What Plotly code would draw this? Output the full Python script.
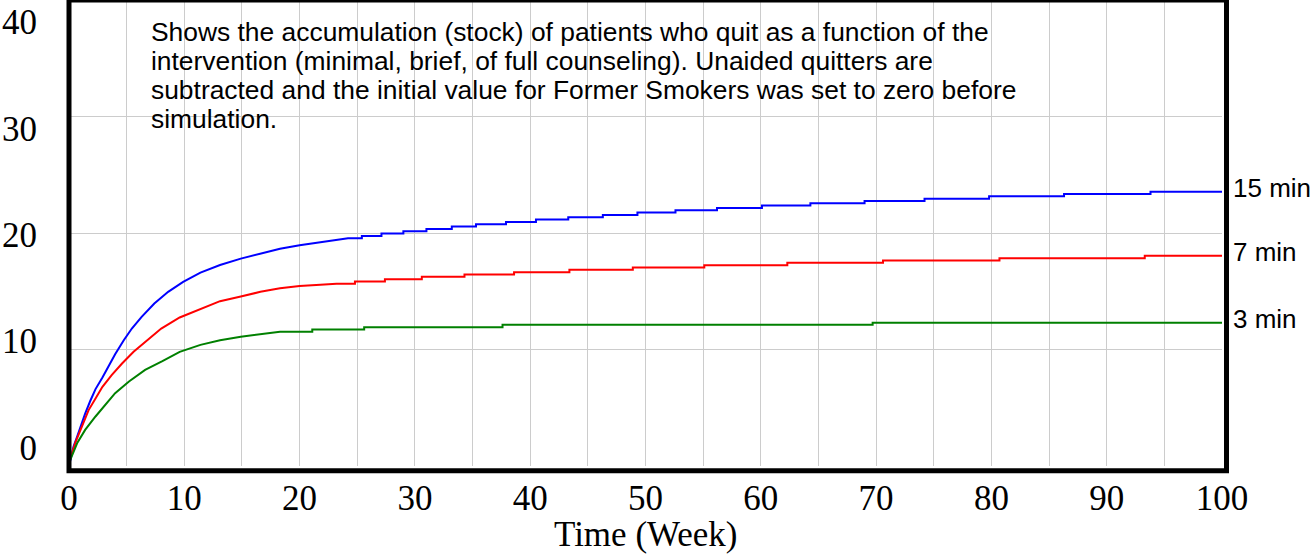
import plotly.graph_objects as go

# ---- data ----
weeks_15 = [0, 0.4, 0.7, 1.0, 1.4, 1.85, 2.3, 2.9, 3.45, 4.0, 4.75, 5.45, 6.3, 7.4, 8.6, 9.9, 11.4,
            13.1, 14.9, 16.6, 18.3, 20.0, 21.8, 23.5, 24.2,
            25.4, 25.4, 27.1, 27.1, 29.0, 29.0, 31.0, 31.0, 33.2, 33.2, 35.3, 35.3, 37.9, 37.9,
            40.5, 40.5, 43.3, 43.3, 46.3, 46.3, 49.3, 49.3, 52.6, 52.6, 56.2, 56.2, 60.1, 60.1,
            64.3, 64.3, 69.0, 69.0, 74.2, 74.2, 79.8, 79.8, 86.3, 86.3, 93.8, 93.8, 100]
vals_15 = [0, 1.7, 2.5, 3.4, 4.5, 5.6, 6.6, 7.6, 8.6, 9.6, 10.8, 11.8, 12.8, 13.95, 14.95, 15.8, 16.6,
           17.25, 17.8, 18.25, 18.65, 18.95, 19.2, 19.45, 19.55,
           19.55, 19.75, 19.75, 19.95, 19.95, 20.15, 20.15, 20.35, 20.35, 20.55, 20.55, 20.75, 20.75, 20.95,
           20.95, 21.15, 21.15, 21.35, 21.35, 21.55, 21.55, 21.75, 21.75, 21.95, 21.95, 22.15, 22.15, 22.35,
           22.35, 22.55, 22.55, 22.75, 22.75, 22.95, 22.95, 23.15, 23.15, 23.35, 23.35, 23.55, 23.55]

weeks_7 = [0, 0.1, 0.55, 1.1, 1.7, 2.3, 2.9, 3.7, 4.6, 5.6, 6.9, 8.0, 9.6, 11.4, 13.1, 14.9, 16.6,
           18.3, 20.0, 21.8, 23.2,
           24.8, 24.8, 27.4, 27.4, 30.6, 30.6, 34.3, 34.3, 38.6, 38.6, 43.4, 43.4, 48.9, 48.9,
           55.1, 55.1, 62.3, 62.3, 70.6, 70.6, 80.7, 80.7, 93.3, 93.3, 100]
vals_7 = [0, 0.6, 2.0, 3.4, 4.8, 5.8, 6.8, 7.8, 8.8, 9.8, 10.9, 11.8, 12.75, 13.5, 14.15, 14.55, 14.95,
          15.25, 15.45, 15.55, 15.64,
          15.64, 15.84, 15.84, 16.04, 16.04, 16.24, 16.24, 16.44, 16.44, 16.64, 16.64, 16.84, 16.84, 17.04,
          17.04, 17.24, 17.24, 17.44, 17.44, 17.64, 17.64, 17.84, 17.84, 18.04, 18.04]

weeks_3 = [0, 0.1, 0.7, 1.4, 2.3, 3.15, 4.0, 5.2, 6.6, 8.1, 9.6, 11.4, 13.1, 14.9, 16.6, 18.3,
           21.1, 21.1, 25.6, 25.6, 37.6, 37.6, 69.7, 69.7, 100]
vals_3 = [0, 0.5, 1.95, 3.1, 4.25, 5.25, 6.25, 7.25, 8.25, 9.0, 9.8, 10.4, 10.8, 11.1, 11.32, 11.52,
          11.52, 11.72, 11.72, 11.92, 11.92, 12.12, 12.12, 12.3, 12.3]

series_names = ["15 min", "7 min", "3 min"]
series_colors = ["#0000FF", "#FF0000", "#008000"]
series_weeks = [weeks_15, weeks_7, weeks_3]
series_vals = [vals_15, vals_7, vals_3]

x_ticks = [0, 10, 20, 30, 40, 50, 60, 70, 80, 90, 100]
y_ticks = [0, 10, 20, 30, 40]
x_title = "Time (Week)"
note_lines = [
    "Shows the accumulation (stock) of patients who quit as a function of the",
    "intervention (minimal, brief, of full counseling). Unaided quitters are",
    "subtracted and the initial value for Former Smokers was set to zero before",
    "simulation.",
]

# ---- figure ----
W, H = 1312, 558
L, R, T, B = 69, 90, 0, 92
PH = H - T - B

fig = go.Figure()
for name, col, xs, ys in zip(series_names, series_colors, series_weeks, series_vals):
    fig.add_trace(go.Scatter(x=xs, y=ys, mode="lines", name=name,
                             line=dict(color=col, width=2), showlegend=False,
                             hoverinfo="skip"))
    fig.add_annotation(x=xs[-1], y=ys[-1], xref="x", yref="y", text=name,
                       showarrow=False, xanchor="left", yanchor="middle",
                       xshift=9, yshift=4,
                       font=dict(family="Liberation Sans, Arial", size=26, color="black"))

# invisible trace so the label axis is drawn
fig.add_trace(go.Scatter(x=[0], y=[0], yaxis="y2", mode="markers",
                         marker=dict(opacity=0), showlegend=False, hoverinfo="skip"))

serif = dict(family="Liberation Serif, Times New Roman", size=35, color="black")

fig.update_layout(
    width=W, height=H,
    margin=dict(l=L, r=R, t=T, b=B),
    paper_bgcolor="white", plot_bgcolor="white",
    xaxis=dict(range=[0, 100], tickvals=x_ticks, ticktext=[str(v) for v in x_ticks],
               showgrid=True, gridcolor="#cccccc", gridwidth=1,
               minor=dict(dtick=5, showgrid=True, gridcolor="#cccccc", gridwidth=1),
               zeroline=False, showline=False, ticks="outside", ticklen=1,
               tickcolor="rgba(0,0,0,0)", tickfont=serif),
    yaxis=dict(range=[0, 40], dtick=10, showgrid=True, gridcolor="#cccccc", gridwidth=1,
               zeroline=False, showline=False, showticklabels=False, ticks=""),
    yaxis2=dict(overlaying="y", side="left", anchor="x",
                range=[-1.74, 42.07], tickvals=y_ticks, ticktext=[str(v) for v in y_ticks],
                showgrid=False, zeroline=False, showline=False,
                ticks="outside", ticklen=24, tickcolor="rgba(0,0,0,0)", tickfont=serif),
)

# border frame (slightly outside the data area, as in the reference)
fig.add_shape(type="rect", xref="paper", yref="paper",
              x0=0, x1=(1226.5 - L) / (W - L - R), y0=(PH - 470.8) / PH, y1=1.0,
              line=dict(color="black", width=5), fillcolor="rgba(0,0,0,0)", layer="above")

# x axis title
fig.add_annotation(x=0.5, y=(PH - 534) / PH, xref="paper", yref="paper", text=x_title,
                   showarrow=False, xanchor="center", yanchor="middle", font=serif)

# note text
note_centers = [31.6, 60.8, 90.0, 119.2]
for line, cy in zip(note_lines, note_centers):
    fig.add_annotation(x=(149 - L) / (W - L - R), y=(PH - cy) / PH, xref="paper", yref="paper",
                       text=line, showarrow=False, xanchor="left", yanchor="middle",
                       font=dict(family="Liberation Sans, Arial", size=26.4, color="black"))

fig.write_html("out.html", config={"displayModeBar": False},
               post_script="document.body.style.margin='0';document.body.style.overflow='hidden';")
